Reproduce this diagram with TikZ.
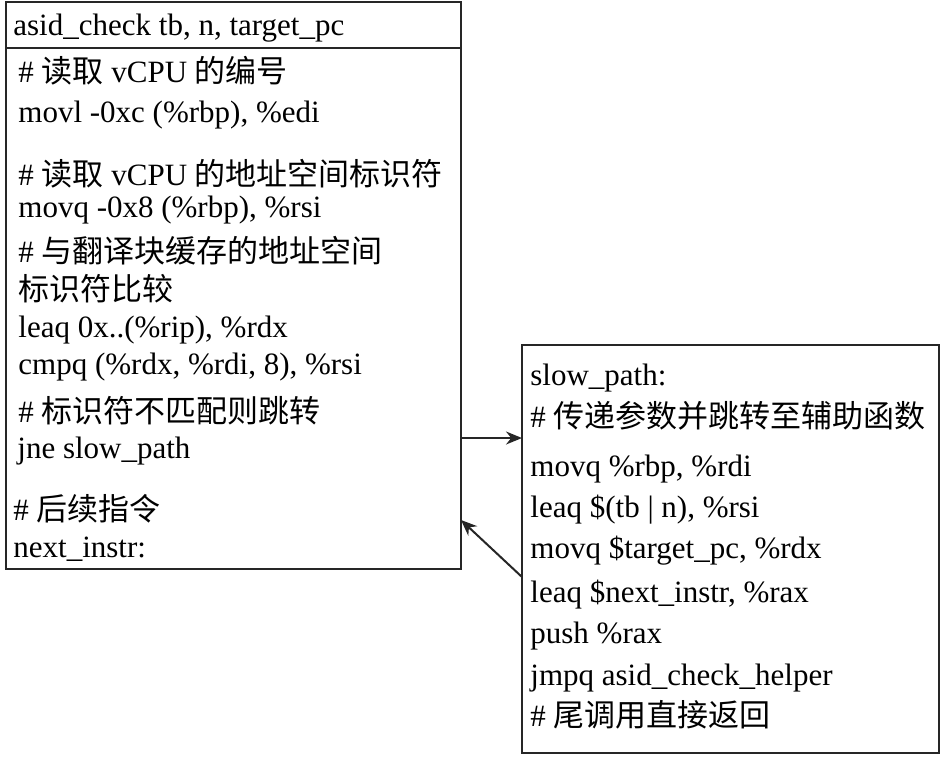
\documentclass[tikz,border=0pt]{standalone}
\usepackage{fontspec}
\setmainfont{Liberation Serif}
\newfontfamily\cjk{Noto Sans CJK SC}
\usetikzlibrary{arrows.meta}
\begin{document}
\begin{tikzpicture}[x=0.5pt,y=-0.5pt,
  box/.style={draw=black!85, line width=1pt, inner sep=0pt, outer sep=0pt},
  ln/.style={anchor=base west, inner sep=0pt, font=\fontsize{15.5}{18}\selectfont},
  conn/.style={draw=black!85, line width=1pt, -{Stealth[length=8pt,width=6.5pt]}}]
\useasboundingbox (0,0) rectangle (945,756);
% boxes
\node[box, minimum width=227.5pt, minimum height=283.5pt] (L) at (233.5,285.5) {};
\node[box, minimum width=208.5pt, minimum height=204pt] (R) at (730.5,549) {};
\coordinate (hd) at (0,48);
\draw[black!85, line width=1pt] (L.west |- hd) -- (L.east |- hd);
% left text
\node[ln] (t0) at (13,35) {asid\_check tb, n, target\_pc};
\node[ln] (t1) at (18,82) {\# {\cjk 读取} vCPU {\cjk 的编号}};
\node[ln] (t2) at (18,122) {movl -0xc (\%rbp), \%edi};
\node[ln] (t3) at (18,185) {\# {\cjk 读取} vCPU {\cjk 的地址空间标识符}};
\node[ln] (t4) at (18,217) {movq -0x8 (\%rbp), \%rsi};
\node[ln] (t5) at (18,262) {\# {\cjk 与翻译块缓存的地址空间}};
\node[ln] (t6) at (18,300) {{\cjk 标识符比较}};
\node[ln] (t7) at (18,337) {leaq 0x..(\%rip), \%rdx};
\node[ln] (t8) at (18,374) {cmpq (\%rdx, \%rdi, 8), \%rsi};
\node[ln] (t9) at (18,422) {\# {\cjk 标识符不匹配则跳转}};
\node[ln] (t10) at (17,458) {jne slow\_path};
\node[ln] (t11) at (13,520) {\# {\cjk 后续指令}};
\node[ln] (t12) at (13,557) {next\_instr:};
% right text
\node[ln] (s0) at (530,385) {slow\_path:};
\node[ln] (s1) at (530,427) {\# {\cjk 传递参数并跳转至辅助函数}};
\node[ln] (s2) at (530,476) {movq \%rbp, \%rdi};
\node[ln] (s3) at (530,517) {leaq \$(tb | n), \%rsi};
\node[ln] (s4) at (530,558) {movq \$target\_pc, \%rdx};
\node[ln] (s5) at (530,602) {leaq \$next\_instr, \%rax};
\node[ln] (s6) at (530,643) {push \%rax};
\node[ln] (s7) at (530,685) {jmpq asid\_check\_helper};
\node[ln] (s8) at (530,726) {\# {\cjk 尾调用直接返回}};
% connectors
\coordinate (a1) at (0,438);
\draw[conn] (L.east |- a1) -- (R.west |- a1);
\coordinate (b1) at (0,577);
\coordinate (b2) at (0,520);
\draw[conn] (R.west |- b1) -- (L.east |- b2);
\end{tikzpicture}
\end{document}
